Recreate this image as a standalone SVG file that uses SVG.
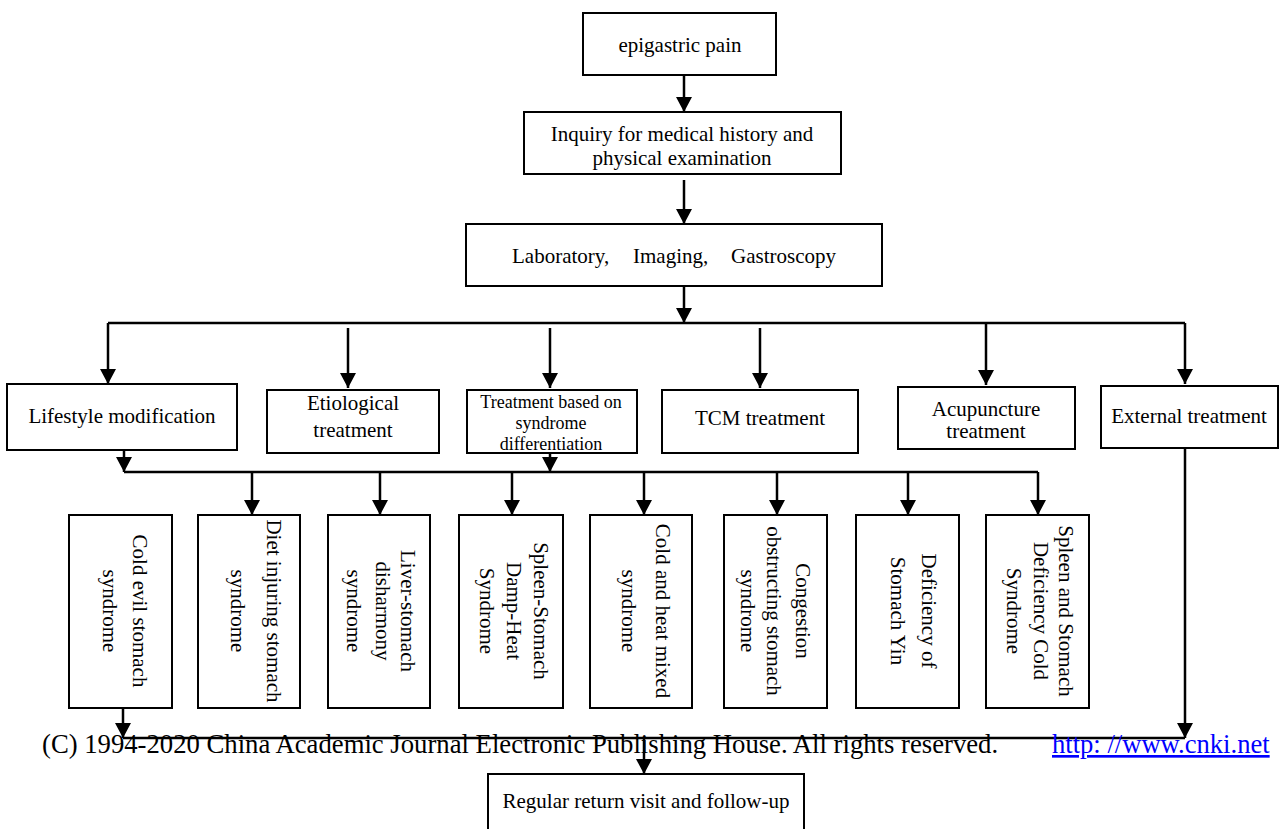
<svg xmlns="http://www.w3.org/2000/svg" width="1280" height="829" viewBox="0 0 1280 829">
<style>
.box{fill:#fff;stroke:#000;stroke-width:2}
.t{font-family:"Liberation Serif","Times New Roman",serif;font-size:21px;fill:#000}
.m{text-anchor:middle}
.s18{font-size:18px}
.ln{fill:none;stroke:#000;stroke-width:2.5}
.ar{fill:none;stroke:#000;stroke-width:2.5;marker-end:url(#ah)}
.foot{font-family:"Liberation Serif","Times New Roman",serif;font-size:26.7px;fill:#000}
.link{font-family:"Liberation Serif","Times New Roman",serif;font-size:26.6px;fill:#0000ff;text-decoration:underline}
</style>
<defs>
<marker id="ah" markerUnits="userSpaceOnUse" markerWidth="16" markerHeight="16" refX="15" refY="8" orient="auto">
<path d="M0,0 L15,8 L0,16 z" fill="#000"/>
</marker>
</defs>
<rect width="1280" height="829" fill="#fff"/>

<g id="connectors">
<line class="ar" x1="684" y1="75" x2="684" y2="112"/>
<line class="ar" x1="684" y1="180" x2="684" y2="224"/>
<line class="ar" x1="684" y1="286" x2="684" y2="323"/>
<polyline class="ln" points="108,323 1185,323"/>
<line class="ar" x1="108" y1="323" x2="108" y2="384"/>
<line class="ar" x1="348" y1="328" x2="348" y2="388"/>
<line class="ar" x1="550" y1="328" x2="550" y2="388"/>
<line class="ar" x1="760" y1="328" x2="760" y2="388"/>
<line class="ar" x1="986" y1="323" x2="986" y2="385"/>
<line class="ar" x1="1185" y1="323" x2="1185" y2="384"/>
<line class="ar" x1="124" y1="450" x2="124" y2="472"/>
<line class="ar" x1="550" y1="453" x2="550" y2="472"/>
<polyline class="ln" points="124,472 1038,472"/>
<line class="ar" x1="252" y1="472" x2="252" y2="515"/>
<line class="ar" x1="380" y1="472" x2="380" y2="515"/>
<line class="ar" x1="512" y1="472" x2="512" y2="515"/>
<line class="ar" x1="644" y1="472" x2="644" y2="515"/>
<line class="ar" x1="777" y1="472" x2="777" y2="515"/>
<line class="ar" x1="908" y1="472" x2="908" y2="515"/>
<line class="ar" x1="1038" y1="472" x2="1038" y2="515"/>
<line class="ar" x1="123" y1="708" x2="123" y2="738"/>
<line class="ar" x1="1185" y1="448" x2="1185" y2="738"/>
<polyline class="ln" points="123,738 1185,738"/>
<line class="ar" x1="644" y1="738" x2="644" y2="774"/>
</g>

<g id="n-epigastric">
<rect class="box" x="583" y="13" width="193" height="62"/>
<text class="t m" x="680" y="52">epigastric pain</text>
</g>
<g id="n-inquiry">
<rect class="box" x="524" y="112" width="317" height="62"/>
<text class="t m" x="682" y="141">Inquiry for medical history and</text>
<text class="t m" x="682" y="165">physical examination</text>
</g>
<g id="n-lab">
<rect class="box" x="466" y="224" width="416" height="62"/>
<text class="t" y="263"><tspan x="512">Laboratory,</tspan><tspan x="633">Imaging,</tspan><tspan x="731">Gastroscopy</tspan></text>
</g>

<g id="n-lifestyle">
<rect class="box" x="7" y="384" width="230" height="66"/>
<text class="t m" x="122" y="423">Lifestyle modification</text>
</g>
<g id="n-etiological">
<rect class="box" x="267" y="390" width="172" height="63"/>
<text class="t m" x="353" y="410">Etiological</text>
<text class="t m" x="353" y="437">treatment</text>
</g>
<g id="n-syndrome-diff">
<rect class="box" x="467" y="390" width="170" height="63"/>
<text class="t m s18" x="551" y="408">Treatment based on</text>
<text class="t m s18" x="551" y="429">syndrome</text>
<text class="t m s18" x="551" y="450">differentiation</text>
</g>
<g id="n-tcm">
<rect class="box" x="662" y="390" width="196" height="63"/>
<text class="t m" x="760" y="425">TCM treatment</text>
</g>
<g id="n-acupuncture">
<rect class="box" x="898" y="387" width="177" height="62"/>
<text class="t m" x="986" y="416">Acupuncture</text>
<text class="t m" x="986" y="438">treatment</text>
</g>
<g id="n-external">
<rect class="box" x="1101" y="386" width="177" height="62"/>
<text class="t m" x="1189" y="423">External treatment</text>
</g>

<g id="n-cold-evil">
<rect class="box" x="69" y="515" width="103" height="193"/>
<text class="t m" transform="translate(133,611) rotate(90)">Cold evil stomach</text>
<text class="t m" transform="translate(103,611) rotate(90)">syndrome</text>
</g>
<g id="n-diet">
<rect class="box" x="198" y="515" width="102" height="193"/>
<text class="t m" transform="translate(267,611) rotate(90)">Diet injuring stomach</text>
<text class="t m" transform="translate(231,611) rotate(90)">syndrome</text>
</g>
<g id="n-liver">
<rect class="box" x="328" y="515" width="102" height="193"/>
<text class="t m" transform="translate(401,611) rotate(90)">Liver-stomach</text>
<text class="t m" transform="translate(376,611) rotate(90)">disharmony</text>
<text class="t m" transform="translate(347,611) rotate(90)">syndrome</text>
</g>
<g id="n-damp-heat">
<rect class="box" x="459" y="515" width="104" height="193"/>
<text class="t m" transform="translate(534,611) rotate(90)">Spleen-Stomach</text>
<text class="t m" transform="translate(507,611) rotate(90)">Damp-Heat</text>
<text class="t m" transform="translate(480,611) rotate(90)">Syndrome</text>
</g>
<g id="n-cold-heat">
<rect class="box" x="590" y="515" width="102" height="193"/>
<text class="t m" transform="translate(656,611) rotate(90)">Cold and heat mixed</text>
<text class="t m" transform="translate(622,611) rotate(90)">syndrome</text>
</g>
<g id="n-congestion">
<rect class="box" x="724" y="515" width="103" height="193"/>
<text class="t m" transform="translate(796,611) rotate(90)">Congestion</text>
<text class="t m" transform="translate(767,611) rotate(90)">obstructing stomach</text>
<text class="t m" transform="translate(741,611) rotate(90)">syndrome</text>
</g>
<g id="n-yin">
<rect class="box" x="856" y="515" width="103" height="193"/>
<text class="t m" transform="translate(922,611) rotate(90)">Deficiency of</text>
<text class="t m" transform="translate(891,611) rotate(90)">Stomach Yin</text>
</g>
<g id="n-spleen-cold">
<rect class="box" x="986" y="515" width="103" height="193"/>
<text class="t m" transform="translate(1059,611) rotate(90)">Spleen and Stomach</text>
<text class="t m" transform="translate(1034,611) rotate(90)">Deficiency Cold</text>
<text class="t m" transform="translate(1007,611) rotate(90)">Syndrome</text>
</g>

<g id="n-followup">
<rect class="box" x="488" y="774" width="316" height="80"/>
<text class="t m" x="646" y="808">Regular return visit and follow-up</text>
</g>

<g id="footer">
<text class="foot" x="42" y="753">(C) 1994-2020 China Academic Journal Electronic Publishing House. All rights reserved.</text>
<text class="link" x="1052" y="753">http: //www.cnki.net</text>
</g>
</svg>
